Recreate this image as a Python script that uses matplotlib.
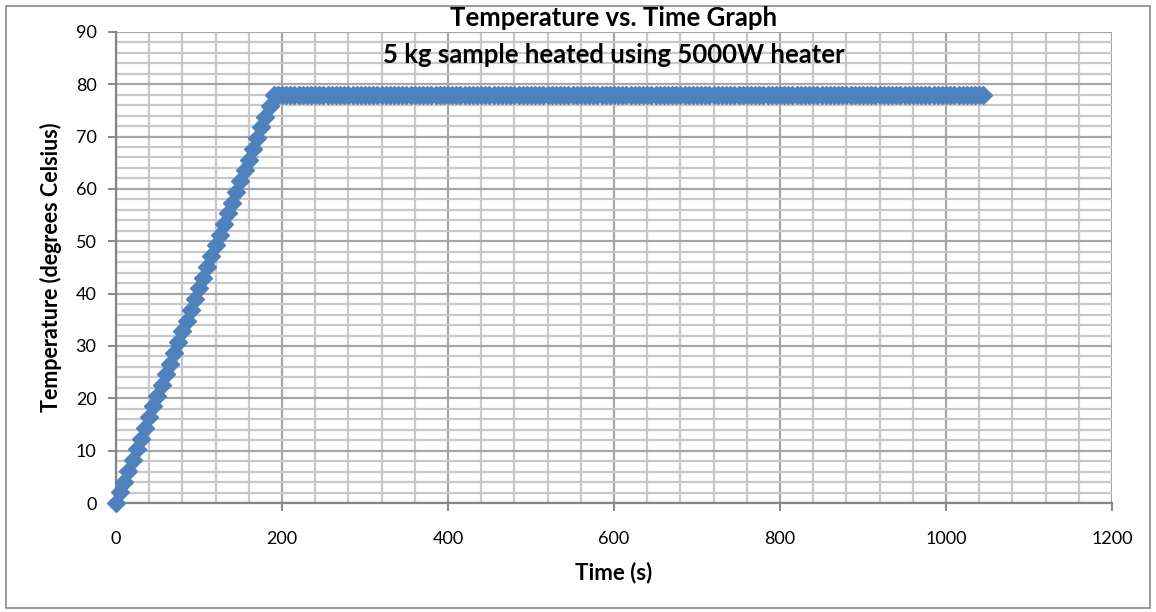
import matplotlib.pyplot as plt
from matplotlib.patches import Rectangle
from matplotlib.ticker import MultipleLocator

# data (5 s steps)
time_s = [
    0, 5, 10, 15, 20, 25, 30, 35, 40, 45, 50, 55, 60, 65, 70, 75, 80, 85, 90, 95,
    100, 105, 110, 115, 120, 125, 130, 135, 140, 145, 150, 155, 160, 165, 170, 175, 180, 185, 190, 195,
    200, 205, 210, 215, 220, 225, 230, 235, 240, 245, 250, 255, 260, 265, 270, 275, 280, 285, 290, 295,
    300, 305, 310, 315, 320, 325, 330, 335, 340, 345, 350, 355, 360, 365, 370, 375, 380, 385, 390, 395,
    400, 405, 410, 415, 420, 425, 430, 435, 440, 445, 450, 455, 460, 465, 470, 475, 480, 485, 490, 495,
    500, 505, 510, 515, 520, 525, 530, 535, 540, 545, 550, 555, 560, 565, 570, 575, 580, 585, 590, 595,
    600, 605, 610, 615, 620, 625, 630, 635, 640, 645, 650, 655, 660, 665, 670, 675, 680, 685, 690, 695,
    700, 705, 710, 715, 720, 725, 730, 735, 740, 745, 750, 755, 760, 765, 770, 775, 780, 785, 790, 795,
    800, 805, 810, 815, 820, 825, 830, 835, 840, 845, 850, 855, 860, 865, 870, 875, 880, 885, 890, 895,
    900, 905, 910, 915, 920, 925, 930, 935, 940, 945, 950, 955, 960, 965, 970, 975, 980, 985, 990, 995,
    1000, 1005, 1010, 1015, 1020, 1025, 1030, 1035, 1040, 1045,
]
temp_c = [
    0.0, 2.05, 4.1, 6.15, 8.2, 10.25, 12.3, 14.35, 16.4, 18.45, 20.5, 22.55, 24.6, 26.65, 28.7, 30.75,
    32.8, 34.85, 36.9, 38.95, 41.0, 43.05, 45.1, 47.15, 49.2, 51.25, 53.3, 55.35, 57.4, 59.45, 61.5,
    63.55, 65.6, 67.65, 69.7, 71.75, 73.8, 75.85, 77.9, 78,
    78, 78, 78, 78, 78, 78, 78, 78, 78, 78, 78, 78, 78, 78, 78, 78, 78, 78, 78, 78,
    78, 78, 78, 78, 78, 78, 78, 78, 78, 78, 78, 78, 78, 78, 78, 78, 78, 78, 78, 78,
    78, 78, 78, 78, 78, 78, 78, 78, 78, 78, 78, 78, 78, 78, 78, 78, 78, 78, 78, 78,
    78, 78, 78, 78, 78, 78, 78, 78, 78, 78, 78, 78, 78, 78, 78, 78, 78, 78, 78, 78,
    78, 78, 78, 78, 78, 78, 78, 78, 78, 78, 78, 78, 78, 78, 78, 78, 78, 78, 78, 78,
    78, 78, 78, 78, 78, 78, 78, 78, 78, 78, 78, 78, 78, 78, 78, 78, 78, 78, 78, 78,
    78, 78, 78, 78, 78, 78, 78, 78, 78, 78, 78, 78, 78, 78, 78, 78, 78, 78, 78, 78,
    78, 78, 78, 78, 78, 78, 78, 78, 78, 78, 78, 78, 78, 78, 78, 78, 78, 78, 78, 78,
    78, 78, 78, 78, 78, 78, 78, 78, 78, 78,
]

title_1 = 'Temperature vs. Time Graph'
title_2 = '5 kg sample heated using 5000W heater'

plt.rcParams['font.family'] = ['Lato', 'DejaVu Sans']

fig = plt.figure(figsize=(11.56, 6.12), dpi=100)
ax = fig.add_axes([0.1003, 0.178, 0.8617, 0.770])

ax.plot(time_s, temp_c, linestyle='none', marker='D', markersize=9,
        color='#4F81BD', markeredgecolor='#4F81BD', zorder=3, clip_on=False)

ax.set_xlim(0, 1200)
ax.set_ylim(0, 90)
ax.xaxis.set_major_locator(MultipleLocator(200))
ax.xaxis.set_minor_locator(MultipleLocator(40))
ax.yaxis.set_major_locator(MultipleLocator(10))
ax.yaxis.set_minor_locator(MultipleLocator(2))

# Excel-like grid
ax.grid(which='minor', color='#C8C8C8', linewidth=1.6)
ax.grid(which='major', color='#A6A6A6', linewidth=1.6)
ax.set_axisbelow(True)

for side in ['top', 'right']:
    ax.spines[side].set_visible(False)
for side in ['left', 'bottom']:
    ax.spines[side].set_color('#868686')
    ax.spines[side].set_linewidth(1.6)

ax.tick_params(which='major', direction='out', length=6, width=1.4, color='#868686',
               labelsize=13, pad=8)
ax.tick_params(which='minor', length=0)
ax.tick_params(axis='x', pad=14)

ax.set_xlabel('Time (s)', fontsize=16, fontweight='bold', labelpad=11)
ax.set_ylabel('Temperature (degrees Celsius)', fontsize=15.5, fontweight='bold', labelpad=10)

fig.text(0.531, 0.970, title_1, ha='center', va='center', fontsize=18.5, fontweight='bold')
fig.text(0.531, 0.910, title_2, ha='center', va='center', fontsize=18.5, fontweight='bold')

# outer chart border
fig.patches.append(Rectangle((0.005, 0.006), 0.99, 0.984, transform=fig.transFigure,
                             fill=False, edgecolor='#888888', linewidth=1.2))

fig.savefig('out.png', dpi=100)
